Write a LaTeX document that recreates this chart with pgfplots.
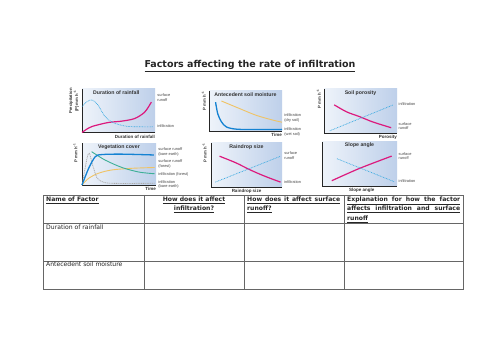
\documentclass[border=0pt]{standalone}
\usepackage{fontspec}
\setmainfont{DejaVu Sans}
\newfontfamily\cf{Liberation Sans}
\usepackage{pgfplots}
\pgfplotsset{compat=1.18}
\definecolor{bgL}{RGB}{238,243,250}
\definecolor{bgR}{RGB}{190,208,234}
\definecolor{mag}{RGB}{220,25,125}
\definecolor{cy}{RGB}{60,170,225}
\definecolor{bl}{RGB}{20,130,210}
\definecolor{orng}{RGB}{240,195,100}
\definecolor{grn}{RGB}{60,175,150}
\definecolor{gry}{RGB}{170,170,170}
\definecolor{tx}{RGB}{70,70,70}
\pgfplotsset{
 mini/.style={scale only axis, xmin=0,xmax=1,ymin=0,ymax=1,
   xtick=\empty, ytick=\empty,
   axis x line*=bottom, axis y line*=left,
   axis line style={-, black!85, line width=0.8pt},
   axis background/.style={left color=bgL, right color=bgR},
   clip=false, anchor=origin},
}
\tikzset{
 lab/.style={font=\cf\fontsize{3.9}{4.5}\selectfont, text=tx, align=left, anchor=west, inner sep=0pt},
 ttl/.style={font=\cf\bfseries\fontsize{5.2}{6}\selectfont, text=black!80, anchor=north, inner sep=0pt},
 xl/.style={font=\cf\bfseries\fontsize{4.5}{5.2}\selectfont, text=black!80, anchor=north east, inner sep=0pt},
 yl/.style={font=\cf\bfseries\fontsize{4.2}{4.8}\selectfont, text=black!80, rotate=90, anchor=south east, inner sep=0pt, align=center},
 sr/.style={mag, line width=1.2pt, smooth},
 dt/.style={cy, line width=0.7pt, dash pattern=on 0.8pt off 0.8pt, smooth},
}
\newcommand{\tf}{\fontsize{6.1}{7.3}\selectfont}
\newcommand{\mmh}{mm h\textsuperscript{–1}}
\begin{document}
\begin{tikzpicture}[x=1pt,y=1pt]
\useasboundingbox (0,0) rectangle (500,353);
\fill[white] (0,0) rectangle (500,353);
% title
\node[font=\bfseries\fontsize{9.5}{11}\selectfont, text=black!85, anchor=base, inner sep=0pt] at (250,285) {\underline{Factors affecting the rate of infiltration}};

% chart 1
\begin{axis}[mini, width=73pt, height=43.5pt, at={(82pt,220.5pt)}]
\addplot[sr] coordinates {(0,0) (0.05,0.06) (0.14,0.14) (0.36,0.23) (0.54,0.26) (0.72,0.32) (0.86,0.47) (0.95,0.70)};
\addplot[dt] coordinates {(0,0.6) (0.07,0.71) (0.14,0.75) (0.22,0.63) (0.31,0.38) (0.42,0.23) (0.63,0.14) (0.97,0.13)};
\node[ttl] at (rel axis cs:0.47,0.96) {Duration of rainfall};
\node[xl] at (rel axis cs:1,-0.05) {Duration of rainfall};
\node[yl] at (rel axis cs:-0.04,1.02) {Precipitation\\(P) \mmh};
\node[lab] at (rel axis cs:1.03,0.80) {surface\\runoff};
\node[lab] at (rel axis cs:1.03,0.14) {infiltration};
\end{axis}

% chart 2
\begin{axis}[mini, width=73pt, height=40pt, at={(209pt,222pt)}]
\addplot[orng, line width=0.9pt, smooth] coordinates {(0.17,0.75) (0.42,0.56) (0.65,0.39) (0.88,0.27) (1.0,0.22)};
\addplot[bl, line width=1.3pt, smooth] coordinates {(0.09,0.72) (0.12,0.43) (0.17,0.23) (0.24,0.10) (0.38,0.045) (0.65,0.035) (1.0,0.04)};
\node[ttl] at (rel axis cs:0.5,0.96) {Antecedent soil moisture};
\node[xl] at (rel axis cs:1,-0.05) {Time};
\node[yl] at (rel axis cs:-0.04,1) {P \mmh};
\node[lab] at (rel axis cs:1.03,0.32) {infiltration\\(dry soil)};
\node[lab] at (rel axis cs:1.03,-0.03) {infiltration\\(wet soil)};
\end{axis}

% chart 3
\begin{axis}[mini, width=73pt, height=44pt, at={(324pt,220pt)}]
\addplot[sr] coordinates {(0.14,0.64) (0.31,0.48) (0.49,0.37) (0.67,0.25) (0.92,0.12)};
\addplot[dt] coordinates {(0.08,0.05) (0.95,0.64)};
\node[ttl] at (rel axis cs:0.5,0.96) {Soil porosity};
\node[xl] at (rel axis cs:1,-0.05) {Porosity};
\node[yl] at (rel axis cs:-0.04,1) {P \mmh};
\node[lab] at (rel axis cs:1.02,0.66) {infiltration};
\node[lab] at (rel axis cs:1.02,0.16) {surface\\runoff};
\end{axis}

% chart 4
\begin{axis}[mini, width=74pt, height=41.7pt, at={(82pt,168pt)}]
\addplot[orng, line width=0.9pt, smooth] coordinates {(0,0) (0.09,0.16) (0.22,0.28) (0.4,0.36) (0.67,0.40) (0.98,0.42)};
\addplot[grn, line width=0.9pt, smooth] coordinates {(0.13,0.8) (0.31,0.6) (0.54,0.42) (0.77,0.31) (0.98,0.27)};
\addplot[gry, line width=0.8pt, dash pattern=on 1pt off 0.8pt, smooth, tension=0.4] coordinates {(0,0) (0.07,0.66) (0.1,0.76) (0.14,0.5) (0.2,0.18) (0.27,0.08) (0.4,0.04) (0.98,0.04)};
\addplot[bl, line width=1.3pt, smooth, tension=0.5] coordinates {(0,0) (0.09,0.4) (0.18,0.68) (0.27,0.73) (0.54,0.74) (0.97,0.72)};
\node[ttl] at (rel axis cs:0.5,0.98) {Vegetation cover};
\node[xl] at (rel axis cs:1,-0.05) {Time};
\node[yl] at (rel axis cs:-0.06,1) {P \mmh};
\node[lab] at (rel axis cs:1.03,0.79) {surface runoff\\(bare earth)};
\node[lab] at (rel axis cs:1.03,0.50) {surface runoff\\(forest)};
\node[lab] at (rel axis cs:1.03,0.26) {infiltration (forest)};
\node[lab] at (rel axis cs:1.03,0.01) {infiltration\\(bare earth)};
\end{axis}

% chart 5
\begin{axis}[mini, width=71pt, height=44pt, at={(211pt,166pt)}]
\addplot[sr] coordinates {(0.12,0.7) (0.35,0.55) (0.55,0.39) (0.75,0.25) (0.98,0.11)};
\addplot[dt] coordinates {(0.06,0.11) (0.98,0.7)};
\node[ttl] at (rel axis cs:0.5,0.96) {Raindrop size};
\node[xl, anchor=north] at (rel axis cs:0.5,-0.05) {Raindrop size};
\node[yl] at (rel axis cs:-0.06,1) {P \mmh};
\node[lab] at (rel axis cs:1.03,0.71) {surface\\runoff};
\node[lab] at (rel axis cs:1.03,0.10) {infiltration};
\end{axis}

% chart 6
\begin{axis}[mini, width=75pt, height=44pt, at={(322pt,167pt)}]
\addplot[sr] coordinates {(0.13,0.12) (0.5,0.4) (0.93,0.68)};
\addplot[dt] coordinates {(0.2,0.62) (0.96,0.1)};
\node[ttl] at (rel axis cs:0.5,0.98) {Slope angle};
\node[xl, anchor=north] at (rel axis cs:0.53,-0.05) {Slope angle};
\node[lab] at (rel axis cs:1.02,0.68) {surface\\runoff};
\node[lab] at (rel axis cs:1.02,0.10) {infiltration};
\end{axis}

% table
\begin{scope}[draw=black!60, line width=0.8pt]
\draw (43,158) rectangle (463,64);
\draw (43,130) -- (463,130);
\draw (43,92) -- (463,92);
\draw (144,158) -- (144,64);
\draw (244,158) -- (244,64);
\draw (344,158) -- (344,64);
\end{scope}
\begin{scope}[every node/.style={inner sep=0pt, text=black!85, font=\tf}]
\node[anchor=base west] at (46,151.5) {\bfseries\underline{Name of Factor}};
\node[anchor=base] at (194,151.5) {\bfseries\underline{How does it affect}};
\node[anchor=base] at (194,142) {\bfseries\underline{infiltration?}};
\node[anchor=base west] at (247,151.5) {\bfseries\underline{\makebox[93pt][s]{How does it affect surface}}};
\node[anchor=base west] at (247,142) {\bfseries\underline{runoff?}};
\node[anchor=base west] at (347,151.5) {\bfseries\underline{\makebox[113pt][s]{Explanation for how the factor}}};
\node[anchor=base west] at (347,142) {\bfseries\underline{\makebox[113pt][s]{affects infiltration and surface}}};
\node[anchor=base west] at (347,132.5) {\bfseries\underline{runoff}};
\node[anchor=base west] at (46,123.5) {Duration of rainfall};
\node[anchor=base west] at (46,86) {Antecedent soil moisture};
\end{scope}
\end{tikzpicture}
\end{document}
